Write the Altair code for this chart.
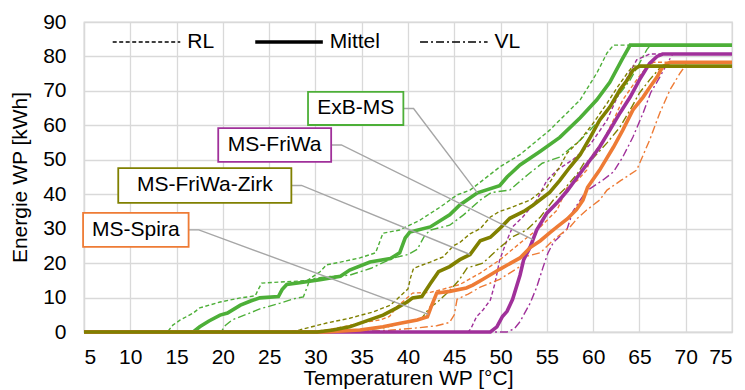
import altair as alt
import numpy as np
import pandas as pd

# Energy of the heat pump vs. temperature, four storage systems,
# each with return (RL), mean (Mittel) and flow (VL) temperature curves.
SYSTEMS = ["ExB-MS", "MS-FriWa", "MS-Spira", "MS-FriWa-Zirk"]
COLORS = ["#4DAF38", "#A0309A", "#EE7B35", "#808000"]

EXB_RL = [(5, 0), (14, 0), (14.6, 2), (15.4, 3.5), (16.8, 5.5), (17.5, 7), (19.7, 8.7), (21.9, 9.9),
          (23.5, 10.5), (23.8, 12.2), (24.2, 14.2), (26.2, 14.5), (29.1, 14.9), (30.5, 17.5), (31.2, 19.5),
          (32.7, 20.3), (34.8, 21.5), (36.5, 23), (37.3, 28.7), (39.1, 29.6), (41.3, 32.5), (43.5, 36.3),
          (45.3, 39.8), (46.7, 41.2), (48.1, 44.1), (49.9, 47.9), (52.1, 51.5), (55.3, 58.6), (58.6, 67.4),
          (60.4, 75.2), (61.5, 81), (62.2, 83.3), (75, 83.3)]
EXB_MITTEL = [(5, 0), (16.8, 0), (17.5, 1.5), (18.5, 3.2), (19.7, 4.9), (20.5, 5.5), (21.9, 7.8), (23, 9),
              (24, 9.9), (26, 10.3), (26.4, 12.3), (26.9, 13.8), (28.3, 14.3), (30.5, 15.2), (32.7, 16.2),
              (33.7, 18), (35.9, 20.3), (38.1, 21.3), (39.1, 23), (39.7, 27.3), (40.2, 29), (42.4, 30.5),
              (44.5, 34), (45.6, 36.9), (47.5, 40.4), (49.9, 42.5), (50.7, 45), (52.1, 48.5), (54.3, 52.5),
              (56.4, 56.5), (58.6, 62.2), (60.4, 67.4), (61.8, 72.5), (63.1, 79), (64, 83.3), (75, 83.3)]
EXB_VL = [(5, 0), (19.8, 0), (20.3, 2), (21, 3.5), (22.9, 5.5), (24, 6.7), (26.2, 8.4), (27.6, 9.6),
          (28.7, 10.2), (29.1, 13), (29.4, 15.3), (31, 16), (33.7, 16.5), (36, 18.5), (38.4, 21.5), (40, 22.5),
          (41, 24), (41.8, 28), (42.4, 29.6), (44.5, 31), (46, 34), (47.8, 38.3), (49, 40.5), (51, 41.2),
          (52.9, 45.6), (54.5, 49), (56.4, 50.8), (58.6, 55.7), (60.7, 61.5), (62.6, 68.2), (64, 73.2),
          (65, 78), (65.8, 82), (66.2, 83.3), (75, 83.3)]

FRIWA_RL = [(5, 0), (46.5, 0), (46.8, 1), (47.4, 4.4), (48.1, 6.4), (48.9, 9.3), (49.4, 14.2), (49.9, 20.9),
            (50.7, 26.7), (51.3, 30.5), (52.4, 33.4), (53.9, 38.3), (55, 44), (56.1, 47), (57.8, 50),
            (59.7, 54.5), (61.5, 61.5), (62.6, 68.2), (63.7, 74), (64.7, 79), (66.1, 80.7), (75, 80.7)]
FRIWA_MITTEL = [(5, 0), (48.9, 0), (49.6, 1.5), (50.2, 4.5), (50.7, 6), (51.3, 9.5), (52.1, 16.5), (52.5, 21),
                (53.2, 24.7), (53.9, 29.6), (55, 34.5), (56.1, 37.5), (57.2, 41), (58.3, 45), (59.7, 50),
                (60.7, 53.7), (61.8, 58.6), (62.9, 63.6), (64, 68.2), (65, 73.2), (66.1, 78), (66.9, 80),
                (67.5, 80.7), (75, 80.7)]
FRIWA_VL = [(5, 0), (50.7, 0), (51.5, 1), (52.1, 3), (53.2, 8.4), (53.9, 13), (54.6, 18.9), (55.1, 22.8),
            (55.7, 26), (56.1, 27), (57.2, 30), (57.8, 35), (58.6, 38.3), (59.3, 41), (61, 44), (62.2, 46.5),
            (63.2, 50.8), (64.3, 56.6), (65.4, 63.6), (66.2, 69.4), (67.2, 74), (68, 78), (68.6, 80.7),
            (75, 80.7)]

SPIRA_RL = [(5, 0), (29, 0), (31, 0.5), (33, 1.5), (34.8, 2.6), (37, 3.5), (38, 4.5), (38.8, 7.3),
            (40.5, 11.3), (42.4, 11.5), (43.5, 12.2), (45.6, 13.8), (47.8, 17.1), (49.9, 20.9), (52.1, 25.8),
            (54.3, 30.5), (56.1, 35.4), (57.2, 42), (58.3, 44), (59.3, 47), (59.7, 50.5), (61.1, 55.7),
            (62.2, 61.5), (63.2, 67.4), (64.7, 73.2), (65.8, 77), (66.5, 78.3), (75, 78.3)]
SPIRA_MITTEL = [(5, 0), (31, 0), (34.8, 0.6), (37.3, 1.5), (39.3, 2.6), (41, 3.5), (42.1, 4.4), (42.5, 7.3),
                (43.1, 11.3), (44.5, 11.8), (46.3, 12.8), (47, 13.6), (48.1, 15.3), (49.9, 18.2), (52.1, 21.5),
                (53.2, 24.5), (54.3, 26.5), (55.3, 28.8), (56.1, 30.5), (57.2, 32.8), (58.2, 35.5),
                (58.9, 38.3), (59.4, 42), (60.7, 47), (62.2, 53.7), (63.2, 58.6), (64.3, 64.5), (65.4, 68.2),
                (66.1, 71), (66.9, 74), (67.5, 77), (68.3, 78.3), (75, 78.3)]
SPIRA_VL = [(5, 0), (33, 0), (38, 0.5), (41, 1.2), (43.1, 1.8), (44.5, 2.8), (45, 5), (45.3, 9.5), (46.5, 11),
            (47.8, 13), (49.9, 15.3), (52.1, 19), (52.8, 22), (54.3, 23), (55.7, 26.7), (57.5, 30.5),
            (58.3, 33), (59.3, 35.4), (60.7, 38.3), (61.5, 41.2), (63, 44), (64.7, 47), (66.1, 55.7),
            (67.2, 63.6), (68.3, 70.3), (69.4, 75.2), (70.2, 78.3), (75, 78.3)]

ZIRK_RL = [(5, 0), (27, 0), (28.3, 0.6), (31.2, 2.6), (33.7, 4), (36.2, 5.8), (38.1, 7.8), (39, 10),
           (40, 12.5), (40.3, 16), (40.6, 18.5), (42.4, 20.3), (43.8, 21.8), (44.9, 25), (45.6, 26),
           (46.7, 28.5), (47.8, 30), (48.9, 33.4), (49.9, 35), (51, 36), (53.2, 38.3), (55, 42.1), (56.4, 48),
           (57.2, 52), (58.6, 55.7), (60, 60.6), (61.5, 66.4), (62.6, 71), (63.7, 75.2), (64.3, 77.2),
           (75, 77.2)]
ZIRK_MITTEL = [(5, 0), (30.2, 0), (31.9, 0.6), (33.7, 1.5), (35.3, 3), (37.3, 4.9), (38.8, 7), (39.9, 8.7),
               (40.5, 9.9), (41.5, 10.3), (42.4, 14), (43.3, 17.5), (44.5, 19), (45.6, 21), (46.7, 22.5),
               (47.8, 26.5), (48.9, 27.5), (49.9, 30), (51, 33), (52.5, 35), (53.5, 36.8), (55.3, 40.5),
               (56.4, 44), (57.5, 47.9), (58.6, 51.5), (59.7, 56.6), (60.7, 61.5), (61.8, 65.3), (62.9, 70.3),
               (63.7, 73.2), (64.3, 76), (65, 77.2), (75, 77.2)]
ZIRK_VL = [(5, 0), (33, 0), (37.3, 1.2), (39.5, 2.6), (41.5, 4), (42.4, 7.3), (43.1, 8.5), (44.5, 12),
           (45.5, 15), (46.4, 18.6), (48.1, 20), (49.6, 23.8), (51.3, 27.6), (52.8, 29.6), (54.3, 33.4),
           (55.7, 38.3), (56.8, 41.2), (58.3, 46), (59, 49), (60, 50.5), (61.5, 54.9), (62.9, 59.5), (64, 64.5),
           (65, 69.4), (66.1, 73.2), (67.2, 76.6), (67.6, 77.2), (75, 77.2)]

CURVES = {
    "ExB-MS": {"RL": EXB_RL, "Mittel": EXB_MITTEL, "VL": EXB_VL},
    "MS-FriWa": {"RL": FRIWA_RL, "Mittel": FRIWA_MITTEL, "VL": FRIWA_VL},
    "MS-Spira": {"RL": SPIRA_RL, "Mittel": SPIRA_MITTEL, "VL": SPIRA_VL},
    "MS-FriWa-Zirk": {"RL": ZIRK_RL, "Mittel": ZIRK_MITTEL, "VL": ZIRK_VL},
}

X_TICKS = list(range(5, 80, 5))
Y_TICKS = list(range(0, 100, 10))

# Label boxes (temperature / energy extents) and where each leader line ends on its Mittel curve
BOX_T0 = [29.2, 19.5, 4.9, 8.7]
BOX_T1 = [39.5, 31.7, 16.3, 27.4]
BOX_E0 = [60.1, 49.4, 24.7, 37.5]
BOX_E1 = [69.7, 59.2, 34.6, 47.6]
LEADER_T = [47.5, 53.5, 42.2, 46.7]
ELBOW = 1.1

# Line-style key drawn inside the plot
KEY_LABELS = ["RL", "Mittel", "VL"]
KEY_T0 = [8.1, 23.5, 41.3]
KEY_T1 = [15.4, 30.8, 48.6]
KEY_E = 84.2
DASHES = {"RL": [4, 2.5], "Mittel": [1, 0], "VL": [8, 3, 2, 3]}
WIDTHS = {"RL": 1.4, "Mittel": 3.6, "VL": 1.4}

FONT = "Liberation Sans"
FS = 21

rows = []
for s in SYSTEMS:
    for k in ["RL", "VL", "Mittel"]:
        for i, (t, e) in enumerate(CURVES[s][k]):
            rows.append({"system": s, "kind": k, "series": s + " " + k, "i": i, "T": t, "E": e})
curves = pd.DataFrame(rows)

color_scale = alt.Scale(domain=SYSTEMS, range=COLORS)
x_scale = alt.Scale(domain=[5, 75], nice=False, zero=False)
y_scale = alt.Scale(domain=[0, 90], nice=False)
x_axis = alt.Axis(values=X_TICKS, title="Temperaturen WP [°C]", labelOverlap=False, tickCount=15)
y_axis = alt.Axis(values=Y_TICKS, title="Energie WP [kWh]", labelOverlap=False, tickCount=10)


def xe(field):
    return alt.X(field, type="quantitative", scale=x_scale, axis=x_axis)


def ye(field):
    return alt.Y(field, type="quantitative", scale=y_scale, axis=y_axis)


base = alt.Chart(curves).encode(
    x=xe("T"), y=ye("E"),
    color=alt.Color("system:N", scale=color_scale, legend=None),
    detail="series:N",
    order="i:Q",
)

thin = base.transform_filter(alt.datum.kind != "Mittel").mark_line(strokeWidth=1.4).encode(
    strokeDash=alt.StrokeDash("kind:N", scale=alt.Scale(domain=["RL", "VL"],
                                                        range=[DASHES["RL"], DASHES["VL"]]), legend=None)
)
thick = base.transform_filter(alt.datum.kind == "Mittel").mark_line(strokeWidth=3.6)

# Leader lines: box edge -> short elbow -> point on the Mittel curve
lead_rows = []
for j, s in enumerate(SYSTEMS):
    pts = np.array(CURVES[s]["Mittel"], dtype=float)
    e_mid = (BOX_E0[j] + BOX_E1[j]) / 2
    e_end = float(np.interp(LEADER_T[j], pts[:, 0], pts[:, 1]))
    lead_rows += [
        {"system": s, "i": 0, "T": BOX_T1[j], "E": e_mid},
        {"system": s, "i": 1, "T": BOX_T1[j] + ELBOW, "E": e_mid},
        {"system": s, "i": 2, "T": LEADER_T[j], "E": e_end},
    ]
leaders = alt.Chart(pd.DataFrame(lead_rows)).mark_line(color="#A6A6A6", strokeWidth=1.4).encode(
    x=xe("T"), y=ye("E"), detail="system:N", order="i:Q"
)

boxes_df = pd.DataFrame({"system": SYSTEMS, "t0": BOX_T0, "t1": BOX_T1, "e0": BOX_E0, "e1": BOX_E1})
boxes_df["tm"] = (boxes_df.t0 + boxes_df.t1) / 2
boxes_df["em"] = (boxes_df.e0 + boxes_df.e1) / 2
boxes = alt.Chart(boxes_df).mark_rect(fill="white", strokeWidth=1.8).encode(
    x=xe("t0"), x2="t1", y=ye("e0"), y2="e1",
    stroke=alt.Stroke("system:N", scale=color_scale, legend=None),
)
box_text = alt.Chart(boxes_df).mark_text(font=FONT, fontSize=FS, color="black").encode(
    x=xe("tm"), y=ye("em"), text="system:N"
)

key_layers = []
for lab, t0, t1 in zip(KEY_LABELS, KEY_T0, KEY_T1):
    kdf = pd.DataFrame({"t0": [t0], "t1": [t1], "e": [KEY_E], "label": [lab], "tl": [t1 + 0.75]})
    key_layers.append(alt.Chart(kdf).mark_rule(color="black", strokeWidth=WIDTHS[lab],
                                               strokeDash=DASHES[lab]).encode(
        x=xe("t0"), x2="t1", y=ye("e")))
    key_layers.append(alt.Chart(kdf).mark_text(font=FONT, fontSize=FS, align="left",
                                               baseline="middle", color="black").encode(
        x=xe("tl"), y=ye("e"), text="label:N"))

chart = alt.layer(thin, thick, leaders, boxes, box_text, *key_layers).properties(
    width=648, height=310, autosize="none",
    padding={"left": 84, "top": 22, "right": 13, "bottom": 58},
).configure_axis(
    grid=True, gridColor="#D9D9D9", gridWidth=1.3, domainColor="#D9D9D9", domainWidth=1.3,
    ticks=False, tickSize=0, labelFont=FONT, labelFontSize=FS, labelColor="black",
    titleFont=FONT, titleFontSize=FS, titleFontWeight="normal", titleColor="black",
).configure_axisX(labelPadding=14, titlePadding=0).configure_axisY(
    labelPadding=18, titlePadding=12
).configure_view(stroke="#D9D9D9", strokeWidth=1.3)

chart.save("out.html", embed_options={"renderer": "svg", "actions": False})
